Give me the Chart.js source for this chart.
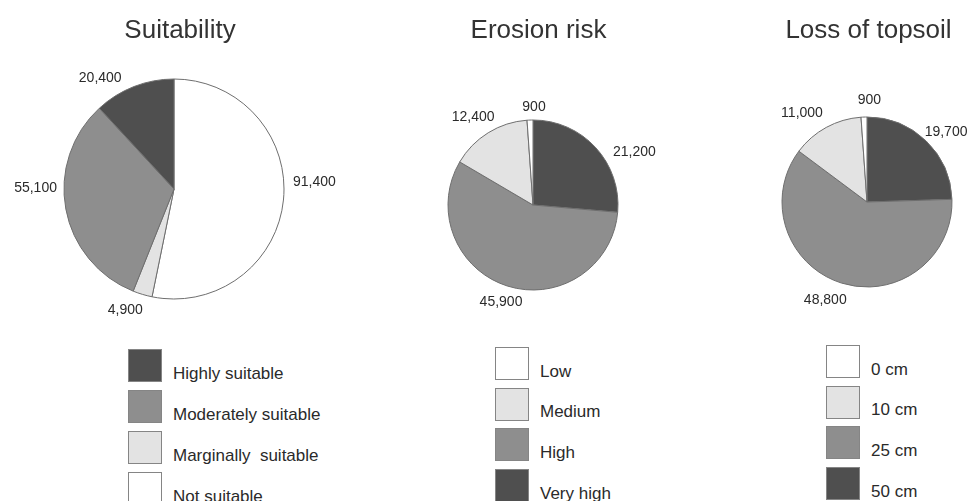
<!DOCTYPE html>
<html>
<head>
<meta charset="utf-8">
<script src="https://cdn.jsdelivr.net/npm/chart.js@4/dist/chart.umd.min.js"></script>
<style>
  html, body { margin: 0; padding: 0; background: #fff; }
  #page { position: relative; width: 969px; height: 501px; overflow: hidden;
          font-family: "Liberation Sans", Arial, Helvetica, sans-serif; color: #2a2a2a; }
  #page canvas { position: absolute; }
  .title { position: absolute; width: 260px; text-align: center; font-size: 26px;
           line-height: 26px; white-space: nowrap; color: #333; }
  .key-box { position: absolute; width: 32px; height: 31px; border: 1px solid #858585; }
  .key-text { position: absolute; font-size: 17px; line-height: 17px; white-space: pre; color: #2a2a2a; }
</style>
</head>
<body>
<div id="page">
  <canvas id="suitability" width="345" height="330" style="left:0px;top:0px"></canvas>
  <canvas id="erosion" width="260" height="270" style="left:420px;top:60px"></canvas>
  <canvas id="topsoil" width="229" height="270" style="left:740px;top:60px"></canvas>
</div>
<script>
// Suitability classes (legend order) and areas
const suitabilityLabels = ['Highly suitable', 'Moderately suitable', 'Marginally  suitable', 'Not suitable'];
const suitabilityValues = [20400, 55100, 4900, 91400];

// Erosion risk classes and areas
const erosionLabels = ['Low', 'Medium', 'High', 'Very high'];
const erosionValues = [900, 12400, 45900, 21200];

// Loss of topsoil classes and areas
const topsoilLabels = ['0 cm', '10 cm', '25 cm', '50 cm'];
const topsoilValues = [900, 11000, 48800, 19700];

// Grey shades
const DARK = '#4f4f4f', MID = '#8e8e8e', LIGHT = '#e3e3e3', WHITE = '#ffffff';
const suitabilityShades = [DARK, MID, LIGHT, WHITE];
const erosionShades = [WHITE, LIGHT, MID, DARK];
const topsoilShades = [WHITE, LIGHT, MID, DARK];

// Writes each slice's value just outside the rim of the pie
const sliceValues = {
  id: 'sliceValues',
  afterDatasetsDraw(chart, args, opts) {
    const ctx = chart.ctx;
    const meta = chart.getDatasetMeta(0);
    const values = chart.data.datasets[0].data;
    ctx.save();
    ctx.font = opts.font;
    ctx.fillStyle = opts.color;
    ctx.textAlign = 'center';
    ctx.textBaseline = 'middle';
    meta.data.forEach((arc, i) => {
      const p = arc.getProps(['x', 'y', 'startAngle', 'endAngle', 'outerRadius'], true);
      const a = (p.startAngle + p.endAngle) / 2 + (opts.shift[i] || 0) * Math.PI / 180;
      const text = values[i].toLocaleString('en-US');
      const w = ctx.measureText(text).width;
      const d = p.outerRadius + opts.gap[i] +
                Math.abs(Math.cos(a)) * w / 2 + Math.abs(Math.sin(a)) * opts.textHeight / 2;
      ctx.fillText(text, p.x + Math.cos(a) * d, p.y + Math.sin(a) * d);
    });
    ctx.restore();
  }
};

function drawPie(id, labels, values, shades, padding, shift, gap) {
  // slices run clockwise from 12 o'clock in reverse legend order
  return new Chart(document.getElementById(id), {
    type: 'pie',
    data: {
      labels: labels.slice().reverse(),
      datasets: [{
        data: values.slice().reverse(),
        backgroundColor: shades.slice().reverse(),
        borderColor: '#6e6e6e',
        borderWidth: 1
      }]
    },
    options: {
      responsive: false,
      animation: false,
      events: [],
      layout: { padding },
      plugins: {
        legend: { display: false },
        tooltip: { enabled: false },
        sliceValues: {
          font: '14px "Liberation Sans", Arial, sans-serif',
          color: '#2a2a2a',
          textHeight: 10,
          shift, gap
        }
      }
    },
    plugins: [sliceValues]
  });
}

drawPie('suitability', suitabilityLabels, suitabilityValues, suitabilityShades,
  { left: 63.5, right: 60.5, top: 78.5, bottom: 30.5 },
  [-8.6, 5.3, 10.9, -12.3], [9, 9, 7, 7]);
drawPie('erosion', erosionLabels, erosionValues, erosionShades,
  { left: 27.5, right: 61.5, top: 59.5, bottom: 39.5 },
  [15, 0.6, -2.5, 2.6], [8, 5.5, 5, 8]);
drawPie('topsoil', topsoilLabels, topsoilValues, topsoilShades,
  { left: 41.5, right: 16.5, top: 56.5, bottom: 42.5 },
  [4.5, 5.5, -7.6, 3.4], [1, 9, 8.5, 11.7]);

// Titles and legends
const page = document.getElementById('page');
function addTitle(text, cx) {
  const el = document.createElement('div');
  el.className = 'title';
  el.textContent = text;
  el.style.left = (cx - 130) + 'px';
  el.style.top = '15.5px';
  page.appendChild(el);
}
function addKey(labels, shades, left, top, step) {
  labels.forEach((label, i) => {
    const y = top + i * step;
    const box = document.createElement('div');
    box.className = 'key-box';
    box.style.left = left + 'px';
    box.style.top = y + 'px';
    box.style.background = shades[i];
    page.appendChild(box);
    const txt = document.createElement('div');
    txt.className = 'key-text';
    txt.textContent = label;
    txt.style.left = (left + 45) + 'px';
    txt.style.top = (y + 15.6) + 'px';
    page.appendChild(txt);
  });
}
addTitle('Suitability', 180);
addTitle('Erosion risk', 538.5);
addTitle('Loss of topsoil', 868.5);
addKey(suitabilityLabels, suitabilityShades, 128, 349, 41);
addKey(erosionLabels, erosionShades, 495, 347, 40.7);
addKey(topsoilLabels, topsoilShades, 826, 345, 40.7);
</script>
</body>
</html>
